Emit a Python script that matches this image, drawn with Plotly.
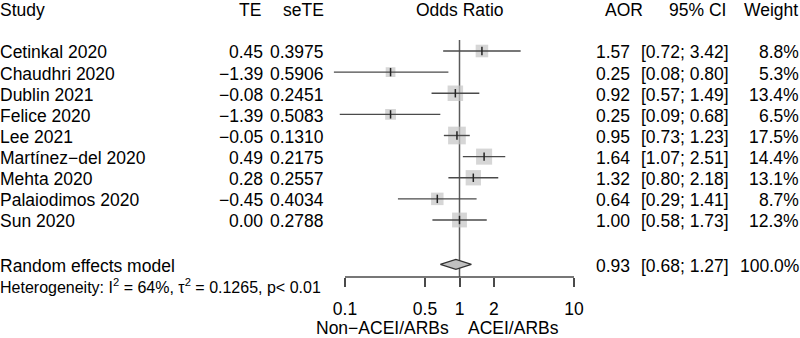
import plotly.graph_objects as go
import numpy as np

# ---------------- data ----------------
studies = ["Cetinkal 2020", "Chaudhri 2020", "Dublin 2021", "Felice 2020", "Lee 2021",
           "Martínez−del 2020", "Mehta 2020", "Palaiodimos 2020", "Sun 2020"]
te = [0.45, -1.39, -0.08, -1.39, -0.05, 0.49, 0.28, -0.45, 0.00]
sete = [0.3975, 0.5906, 0.2451, 0.5083, 0.1310, 0.2175, 0.2557, 0.4034, 0.2788]
aor = [1.57, 0.25, 0.92, 0.25, 0.95, 1.64, 1.32, 0.64, 1.00]
ci_lo = [0.72, 0.08, 0.57, 0.09, 0.73, 1.07, 0.80, 0.29, 0.58]
ci_hi = [3.42, 0.80, 1.49, 0.68, 1.23, 2.51, 2.18, 1.41, 1.73]
weight = [8.8, 5.3, 13.4, 6.5, 17.5, 14.4, 13.1, 8.7, 12.3]
re_label = "Random effects model"
re_aor, re_lo, re_hi, re_w = 0.93, 0.68, 1.27, 100.0
het_text = "Heterogeneity: I<sup>2</sup> = 64%, τ<sup>2</sup> = 0.1265, p< 0.01"
tick_vals = [0.1, 0.5, 1, 2, 10]
tick_text = ["0.1", "0.5", "1", "2", "10"]
label_left = "Non−ACEI/ARBs"
label_right = "ACEI/ARBs"

# ---------------- layout geometry ----------------
W, H = 800, 338
ROW1_PX, PX_ROW = 51.0, 21.125
X1_PX, PX_DEC = 459.5, 114.5
FONT = "Liberation Sans, Arial, sans-serif"
FS = 17.5
LINE_COL = "#4a4a4a"
SQ_COL = "#c4c4c4"
PAD = 2.5  # annotation inner padding compensation (px)


def px_to_row(py):
    return 1 + (py - ROW1_PX) / PX_ROW


rows = list(range(1, len(studies) + 1))
header_row = -1
re_row = 11.1
het_row = 12.05
axis_px = 277
axis_row = px_to_row(axis_px)
txt_off = 0.07


def fmt(v, nd=2):
    return f"{v:.{nd}f}".replace("-", "−")


fig = go.Figure()

# squares (area proportional to weight)
sizes = [17.7 * np.sqrt(w / 17.5) for w in weight]
fig.add_trace(go.Scatter(x=aor, y=rows, mode="markers",
                         marker=dict(symbol="square", size=sizes, color=SQ_COL,
                                     line=dict(width=0)),
                         hoverinfo="skip"))

# CI lines
cx, cy = [], []
for lo, hi, r in zip(ci_lo, ci_hi, rows):
    cx += [lo, hi, None]
    cy += [r, r, None]
fig.add_trace(go.Scatter(x=cx, y=cy, mode="lines",
                         line=dict(color=LINE_COL, width=1.4), hoverinfo="skip"))

# point estimate ticks
fig.add_trace(go.Scatter(x=aor, y=rows, mode="markers",
                         marker=dict(symbol="line-ns-open", size=6, color="#222222",
                                     line=dict(color="#222222", width=1.5)),
                         hoverinfo="skip"))

# diamond
dh = 5 / PX_ROW
fig.add_trace(go.Scatter(x=[re_lo, re_aor, re_hi, re_aor, re_lo],
                         y=[re_row, re_row - dh, re_row, re_row + dh, re_row],
                         mode="lines", fill="toself", fillcolor="#c0c0c0",
                         line=dict(color="#333333", width=1.2), hoverinfo="skip"))

shapes = [
    dict(type="line", xref="x", yref="y", x0=1, x1=1,
         y0=px_to_row(40), y1=axis_row, line=dict(color="#5a5a5a", width=1.5),
         layer="below"),
    dict(type="line", xref="x", yref="y", x0=tick_vals[0], x1=tick_vals[-1],
         y0=axis_row, y1=axis_row, line=dict(color="#4a4a4a", width=1.5)),
]

ann = []


def add_text(text, xpx, row, anchor, size=FS):
    if anchor == "left":
        xpx -= PAD
    elif anchor == "right":
        xpx += PAD
    ann.append(dict(text=text, x=xpx / W, xref="paper", y=row + txt_off, yref="y",
                    xanchor=anchor, yanchor="middle", showarrow=False,
                    font=dict(family=FONT, size=size, color="#000000")))


# headers
add_text("Study", 0, header_row, "left")
add_text("TE", 260, header_row, "right")
add_text("seTE", 323, header_row, "right")
add_text("Odds Ratio", 460, header_row, "center")
add_text("AOR", 642, header_row, "right")
add_text("95% CI", 725, header_row, "right")
add_text("Weight", 797, header_row, "right")

for s, t, se, a, lo, hi, w, r in zip(studies, te, sete, aor, ci_lo, ci_hi, weight, rows):
    add_text(s, 0, r, "left")
    add_text(fmt(t), 262, r, "right")
    add_text(fmt(se, 4), 323, r, "right")
    add_text(fmt(a), 629, r, "right")
    add_text(f"[{fmt(lo)}; {fmt(hi)}]", 728, r, "right")
    add_text(f"{w:.1f}%", 798, r, "right")

add_text(re_label, 0, re_row, "left")
add_text(fmt(re_aor), 629, re_row, "right")
add_text(f"[{fmt(re_lo)}; {fmt(re_hi)}]", 728, re_row, "right")
add_text(f"{re_w:.1f}%", 798, re_row, "right")
add_text(het_text, 0, het_row, "left", size=16)

add_text(label_left, 449, px_to_row(328) - txt_off, "right")
add_text(label_right, 468, px_to_row(328) - txt_off, "left")

fig.update_layout(
    width=W, height=H,
    margin=dict(l=0, r=0, t=0, b=0),
    paper_bgcolor="white", plot_bgcolor="white",
    showlegend=False, hovermode=False,
    shapes=shapes, annotations=ann,
    xaxis=dict(type="log", domain=[0, 1],
               range=[-X1_PX / PX_DEC, (W - X1_PX) / PX_DEC],
               showgrid=False, zeroline=False, showline=False,
               tickvals=tick_vals, ticktext=tick_text,
               ticks="outside", ticklen=9, tickwidth=1.5, tickcolor="#4a4a4a",
               tickfont=dict(family=FONT, size=FS, color="#000000"),
               ticklabelstandoff=7,
               anchor="free", position=(H - axis_px) / H, fixedrange=True),
    yaxis=dict(range=[px_to_row(H), px_to_row(0)], domain=[0, 1],
               visible=False, fixedrange=True),
)

fig.write_html("out.html", config={"displayModeBar": False},
               post_script="document.body.style.margin='0px';document.body.style.overflow='hidden';")
